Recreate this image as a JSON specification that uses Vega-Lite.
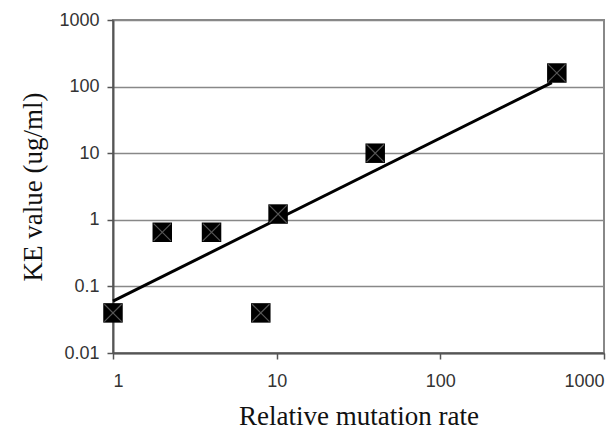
{
  "$schema": "https://vega.github.io/schema/vega-lite/v6.json",
  "autosize": {"type": "none"},
  "padding": {"left": 113, "top": 20, "right": 7, "bottom": 80},
  "width": 491,
  "height": 333,
  "background": "white",
  "config": {
    "view": {"stroke": "#888888", "strokeWidth": 2},
    "axis": {
      "labelFont": "Liberation Sans",
      "labelFontSize": 18,
      "labelColor": "#333333",
      "titleFont": "Liberation Serif",
      "titleFontSize": 27,
      "titleFontWeight": "normal",
      "titleColor": "#111111",
      "domainColor": "#555555",
      "domainWidth": 2,
      "tickColor": "#555555",
      "tickWidth": 1.5,
      "tickSize": 6,
      "gridColor": "#888888",
      "gridWidth": 1.5
    }
  },
  "datasets": {
    "pts": [
      {"rate": 1, "ke": 0.04},
      {"rate": 2, "ke": 0.65},
      {"rate": 4, "ke": 0.65},
      {"rate": 8, "ke": 0.04},
      {"rate": 10.2, "ke": 1.22},
      {"rate": 40, "ke": 10},
      {"rate": 515, "ke": 160}
    ],
    "fit": [
      {"rate": 1, "ke": 0.06},
      {"rate": 480, "ke": 115}
    ]
  },
  "layer": [
    {
      "data": {"name": "fit"},
      "mark": {"type": "line", "color": "black", "strokeWidth": 3},
      "encoding": {
        "x": {
          "field": "rate", "type": "quantitative",
          "scale": {"type": "log", "domain": [1, 1000], "nice": false},
          "axis": {
            "title": "Relative mutation rate",
            "values": [1, 10, 100, 1000],
            "format": "~g",
            "grid": false,
            "labelPadding": 13,
            "titlePadding": 13
          }
        },
        "y": {
          "field": "ke", "type": "quantitative",
          "scale": {"type": "log", "domain": [0.01, 1000], "nice": false},
          "axis": {
            "title": "KE value (ug/ml)",
            "values": [0.01, 0.1, 1, 10, 100, 1000],
            "format": "~g",
            "grid": true,
            "labelPadding": 8,
            "titlePadding": 11
          }
        }
      }
    },
    {
      "data": {"name": "pts"},
      "mark": {"type": "point", "shape": "square", "filled": true, "color": "black", "size": 380, "opacity": 1},
      "encoding": {
        "x": {"field": "rate", "type": "quantitative"},
        "y": {"field": "ke", "type": "quantitative"}
      }
    },
    {
      "data": {"name": "pts"},
      "mark": {"type": "point", "shape": "M-1,-1L1,1M1,-1L-1,1", "filled": false, "stroke": "#555555", "strokeWidth": 1.2, "size": 300, "opacity": 1},
      "encoding": {
        "x": {"field": "rate", "type": "quantitative"},
        "y": {"field": "ke", "type": "quantitative"}
      }
    }
  ]
}
